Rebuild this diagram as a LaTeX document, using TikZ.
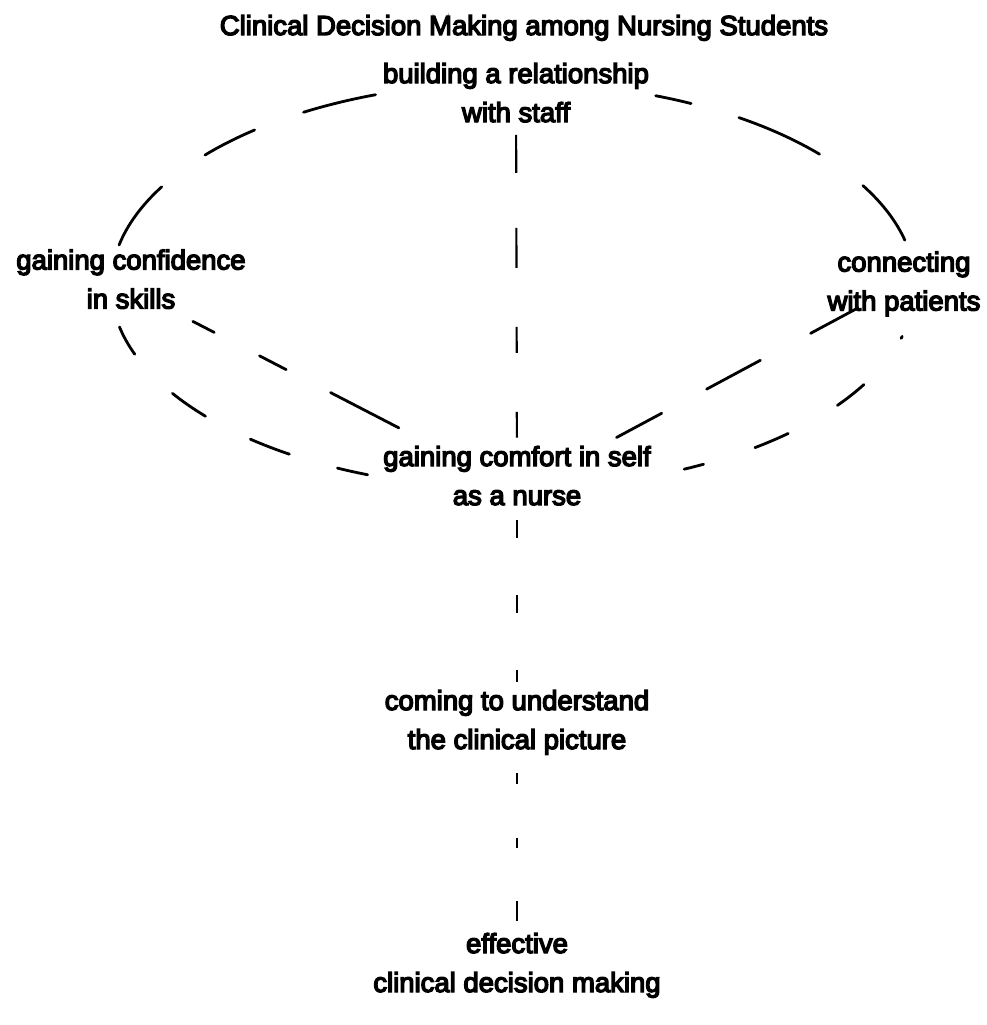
\documentclass[tikz,border=0pt]{standalone}
\usepackage{fontspec}
\newfontfamily\lblfont{Liberation Sans}[FakeBold=5]
\begin{document}
\begin{tikzpicture}[x=1pt,y=-1pt,
  lbl/.style={font=\lblfont\fontsize{27.5}{39}\selectfont, align=center, inner xsep=6pt, inner ysep=1pt},
  ring/.style={line width=2.8pt, line cap=round},
  spoke/.style={line width=2.8pt, line cap=round},
  axisline/.style={line width=2.2pt}]
\useasboundingbox (0,0) rectangle (987,1025);
% labels
\node[lbl] (title) at (524,27.2) {\strut Clinical Decision Making among Nursing Students};
\node[lbl] (staff) at (516,94.7) {\strut building a relationship\\with staff\strut};
\node[lbl] (skills) at (131,281.2) {\strut gaining confidence\\in skills\strut};
\node[lbl] (patients) at (904,283.2) {\strut connecting\\with patients\strut};
\node[lbl] (comfort) at (517,477.7) {\strut gaining comfort in self\\as a nurse\strut};
\node[lbl] (picture) at (517,721.7) {\strut coming to understand\\the clinical picture\strut};
\node[lbl] (effective) at (517,964.7) {\strut effective\\clinical decision making\strut};
% dashed ellipse
\coordinate (E) at (513,285.5);
\foreach \a/\b in {191.5/209.1, 220/230, 238.6/250, 290.8/296.3, 304.2/319.7, 330.5/347.1,
                   160.2/168.2, 139.9/147.9, 123.8/130.8, 111.2/115.9,
                   61.7/64.8, 46.8/53, 29.2/36.2, 14.5/15.1}
  \draw[ring] (E) ++(\a:402 and 203) arc[start angle=\a, end angle=\b, x radius=402, y radius=203];
% vertical axis
\draw[axisline, dash pattern=on 38pt off 55pt on 40pt off 59pt on 26pt off 59pt on 30pt] (staff) -- (comfort);
\draw[axisline, shorten <=2pt, dash pattern=on 18pt off 57pt on 18pt off 57pt on 15pt] (comfort) -- (picture);
\draw[axisline, shorten <=11pt, shorten >=4pt, dash pattern=on 11pt off 54pt on 10pt off 53pt on 25pt] (picture) -- (effective);
% spokes
\draw[spoke, shorten >=21pt, dash pattern=on 24pt off 51pt on 30pt off 50pt on 80pt] (skills.-33.7) -- (comfort.158.4);
\draw[spoke, shorten <=55pt, dash pattern=on 51pt off 57pt on 61pt off 51pt on 55pt] (patients.center) -- (comfort.22.6);
\end{tikzpicture}
\end{document}
